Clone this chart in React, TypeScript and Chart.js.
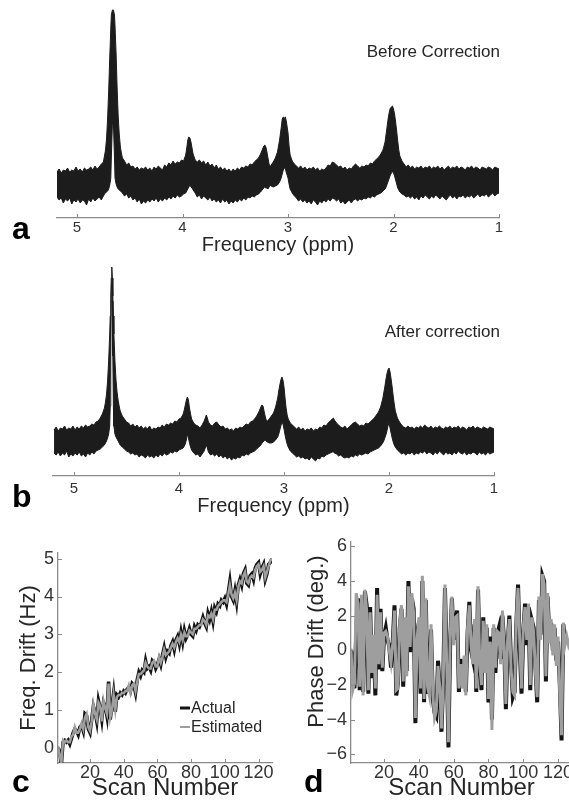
import React, { useEffect, useRef } from "react";
import { Chart, registerables } from "chart.js";

Chart.register(...registerables);

const FONT = "'Liberation Sans', Arial, Helvetica, sans-serif";
const AXIS = "#8a8a8a";
const INK = "#262626";
const SPEC = "#1c1c1c";

// ---------- tick labels ----------
const ppmTicks = [5, 4, 3, 2, 1];
const scanTicks = [20, 40, 60, 80, 100, 120];
const freqTicks = [0, 1, 2, 3, 4, 5];
const phaseTicks = [-6, -4, -2, 0, 2, 4, 6];

// ---------- panel a : spectrum before correction (upper / lower envelope of the noisy trace) ----------
const ppmA = [
  5.19, 5.17, 5.15, 5.13, 5.11, 5.09, 5.07, 5.05, 5.03, 5.01,
  4.99, 4.97, 4.95, 4.93, 4.91, 4.89, 4.87, 4.85, 4.83, 4.81,
  4.79, 4.77, 4.75, 4.74, 4.73, 4.72, 4.71, 4.7, 4.69, 4.68,
  4.675, 4.665, 4.655, 4.645, 4.64, 4.63, 4.62, 4.61, 4.6, 4.59,
  4.58, 4.57, 4.55, 4.53, 4.51, 4.49, 4.47, 4.45, 4.43, 4.41,
  4.39, 4.37, 4.35, 4.33, 4.31, 4.29, 4.27, 4.25, 4.23, 4.21,
  4.19, 4.17, 4.15, 4.13, 4.11, 4.09, 4.07, 4.05, 4.03, 4.01,
  3.99, 3.97, 3.96, 3.95, 3.94, 3.93, 3.92, 3.91, 3.9, 3.88,
  3.86, 3.84, 3.82, 3.8, 3.78, 3.76, 3.74, 3.72, 3.7, 3.68,
  3.66, 3.64, 3.62, 3.6, 3.58, 3.56, 3.54, 3.52, 3.5, 3.48,
  3.46, 3.44, 3.42, 3.4, 3.38, 3.36, 3.34, 3.32, 3.3, 3.28,
  3.26, 3.245, 3.23, 3.22, 3.21, 3.2, 3.19, 3.18, 3.17, 3.16,
  3.14, 3.12, 3.1, 3.08, 3.065, 3.055, 3.045, 3.035, 3.025, 3.015,
  3.0, 2.99, 2.98, 2.96, 2.94, 2.92, 2.9, 2.88, 2.86, 2.84,
  2.82, 2.8, 2.78, 2.76, 2.74, 2.72, 2.7, 2.68, 2.66, 2.64,
  2.62, 2.6, 2.58, 2.56, 2.54, 2.52, 2.5, 2.48, 2.46, 2.44,
  2.42, 2.4, 2.38, 2.36, 2.34, 2.32, 2.3, 2.28, 2.26, 2.24,
  2.22, 2.2, 2.18, 2.16, 2.14, 2.12, 2.1, 2.08, 2.07, 2.06,
  2.05, 2.04, 2.03, 2.02, 2.01, 2.0, 1.99, 1.98, 1.97, 1.96,
  1.95, 1.94, 1.92, 1.9, 1.88, 1.86, 1.84, 1.82, 1.8, 1.78,
  1.76, 1.74, 1.72, 1.7, 1.68, 1.66, 1.64, 1.62, 1.6, 1.58,
  1.56, 1.54, 1.52, 1.5, 1.48, 1.46, 1.44, 1.42, 1.4, 1.38,
  1.36, 1.34, 1.32, 1.3, 1.28, 1.26, 1.24, 1.22, 1.2, 1.18,
  1.16, 1.14, 1.12, 1.1, 1.08, 1.06, 1.04, 1.02, 1.0,
];
const upperA = [
  46, 49, 45, 48, 47, 50, 46, 48, 47, 51,
  47, 49, 46, 50, 48, 49, 51, 48, 52, 49,
  51, 54, 56, 62, 68, 80, 100, 128, 160, 190,
  203, 208, 208, 203, 192, 165, 130, 102, 84, 72,
  65, 60, 57, 53, 55, 51, 52, 49, 51, 48,
  50, 49, 51, 48, 50, 47, 51, 49, 52, 50,
  48, 53, 51, 55, 53, 57, 54, 56, 55, 58,
  57, 63, 70, 78, 81, 80, 76, 70, 64, 58,
  56, 58, 55, 57, 53, 56, 52, 54, 50, 53,
  49, 51, 48, 50, 47, 49, 46, 49, 47, 50,
  48, 51, 50, 52, 51, 54, 53, 56, 58, 60,
  64, 68, 72, 73, 71, 66, 60, 54, 51, 53,
  56, 60, 66, 78, 90, 99, 101, 100, 101, 96,
  85, 72, 63, 57, 54, 52, 50, 52, 49, 51,
  48, 50, 49, 51, 48, 50, 47, 49, 48, 50,
  53, 52, 56, 55, 53, 51, 52, 49, 51, 48,
  50, 49, 52, 54, 52, 50, 52, 51, 53, 52,
  55, 54, 57, 59, 61, 64, 68, 76, 84, 92,
  100, 106, 110, 111, 112, 109, 104, 96, 87, 77,
  68, 62, 57, 54, 51, 53, 50, 52, 49, 51,
  50, 52, 49, 51, 50, 52, 49, 51, 50, 52,
  49, 51, 48, 50, 52, 49, 51, 50, 52, 49,
  51, 50, 48, 51, 50, 52, 49, 51, 50, 48,
  51, 50, 49, 51, 50, 48, 51, 50, 49,
];
const lowerA = [
  21, 18, 20, 15, 19, 17, 20, 14, 18, 16,
  19, 15, 18, 17, 13, 19, 16, 20, 17, 19,
  21, 18, 22, 24, 25, 26, 27, 29, 33, 40,
  60, 94, 94, 60, 40, 34, 31, 29, 28, 27,
  26, 25, 22, 24, 20, 22, 18, 20, 16, 19,
  14, 17, 15, 18, 16, 19, 17, 20, 16, 19,
  17, 20, 18, 21, 19, 22, 20, 23, 21, 22,
  24, 25, 27, 29, 31, 33, 31, 30, 28, 25,
  21, 23, 19, 22, 20, 18, 21, 17, 19, 16,
  18, 15, 19, 16, 18, 14, 17, 15, 18, 16,
  19, 17, 20, 18, 21, 20, 22, 21, 23, 24,
  26, 28, 30, 31, 30, 30, 29, 31, 33, 32,
  31, 32, 33, 36, 40, 44, 48, 50, 49, 45,
  40, 34, 29, 25, 22, 20, 17, 19, 16, 18,
  15, 17, 14, 18, 16, 13, 17, 15, 18, 16,
  19, 17, 20, 19, 17, 19, 15, 17, 14, 16,
  18, 15, 18, 19, 17, 19, 18, 20, 19, 21,
  20, 22, 21, 23, 24, 25, 27, 29, 31, 34,
  37, 40, 43, 45, 46, 45, 42, 38, 34, 30,
  28, 26, 24, 23, 21, 22, 20, 22, 19, 21,
  18, 22, 20, 23, 21, 19, 22, 20, 23, 21,
  19, 22, 20, 18, 21, 23, 20, 22, 19, 22,
  21, 23, 20, 22, 21, 23, 20, 22, 24, 21,
  23, 22, 24, 21, 23, 25, 22, 24, 25,
];

// ---------- panel b : spectrum after correction ----------
const ppmB = [
  5.19, 5.17, 5.15, 5.13, 5.11, 5.09, 5.07, 5.05, 5.03, 5.01,
  4.99, 4.97, 4.95, 4.93, 4.91, 4.89, 4.87, 4.85, 4.83, 4.81,
  4.79, 4.77, 4.75, 4.73, 4.71, 4.7, 4.69, 4.68, 4.67, 4.66,
  4.655, 4.65, 4.645, 4.64, 4.635, 4.63, 4.625, 4.62, 4.61, 4.6,
  4.59, 4.58, 4.57, 4.56, 4.54, 4.52, 4.5, 4.48, 4.46, 4.44,
  4.42, 4.4, 4.38, 4.36, 4.34, 4.32, 4.3, 4.28, 4.26, 4.24,
  4.22, 4.2, 4.18, 4.16, 4.14, 4.12, 4.1, 4.08, 4.06, 4.04,
  4.02, 4.0, 3.98, 3.96, 3.95, 3.94, 3.93, 3.92, 3.91, 3.9,
  3.89, 3.88, 3.86, 3.84, 3.82, 3.8, 3.78, 3.76, 3.75, 3.74,
  3.73, 3.72, 3.7, 3.68, 3.66, 3.64, 3.62, 3.6, 3.58, 3.56,
  3.54, 3.52, 3.5, 3.48, 3.46, 3.44, 3.42, 3.4, 3.38, 3.36,
  3.34, 3.32, 3.3, 3.28, 3.26, 3.24, 3.22, 3.21, 3.2, 3.19,
  3.18, 3.17, 3.16, 3.14, 3.12, 3.1, 3.08, 3.06, 3.05, 3.04,
  3.03, 3.02, 3.01, 3.0, 2.99, 2.98, 2.97, 2.96, 2.94, 2.92,
  2.9, 2.88, 2.86, 2.84, 2.82, 2.8, 2.78, 2.76, 2.74, 2.72,
  2.7, 2.68, 2.66, 2.64, 2.62, 2.6, 2.58, 2.56, 2.54, 2.53,
  2.52, 2.5, 2.48, 2.46, 2.44, 2.42, 2.4, 2.38, 2.36, 2.34,
  2.32, 2.3, 2.28, 2.26, 2.24, 2.22, 2.2, 2.18, 2.16, 2.14,
  2.12, 2.1, 2.08, 2.06, 2.05, 2.04, 2.03, 2.02, 2.01, 2.0,
  1.99, 1.98, 1.97, 1.96, 1.95, 1.94, 1.92, 1.9, 1.88, 1.86,
  1.84, 1.82, 1.8, 1.78, 1.76, 1.74, 1.72, 1.7, 1.68, 1.66,
  1.64, 1.62, 1.6, 1.58, 1.56, 1.54, 1.52, 1.5, 1.48, 1.46,
  1.44, 1.42, 1.4, 1.38, 1.36, 1.34, 1.32, 1.3, 1.28, 1.26,
  1.24, 1.22, 1.2, 1.18, 1.16, 1.14, 1.12, 1.1, 1.08, 1.06,
  1.04, 1.02, 1.0,
];
const upperB = [
  46, 49, 45, 48, 47, 50, 46, 48, 47, 50,
  46, 49, 47, 50, 48, 51, 49, 50, 52, 51,
  54, 55, 58, 62, 68, 74, 82, 95, 115, 142,
  160, 180, 198, 209, 198, 180, 160, 142, 115, 96,
  84, 76, 70, 65, 60, 57, 54, 53, 50, 52,
  49, 51, 48, 50, 47, 49, 47, 50, 46, 48,
  47, 49, 48, 51, 49, 52, 51, 53, 52, 55,
  54, 57, 58, 62, 66, 71, 76, 79, 76, 68,
  62, 57, 53, 51, 50, 48, 51, 55, 58, 61,
  58, 54, 51, 50, 53, 54, 51, 49, 50, 47,
  48, 46, 47, 45, 48, 47, 49, 48, 50, 52,
  51, 54, 55, 57, 60, 64, 69, 71, 70, 65,
  60, 56, 55, 57, 60, 63, 69, 78, 85, 91,
  96, 99, 96, 89, 78, 68, 61, 57, 53, 51,
  49, 47, 49, 46, 48, 45, 47, 46, 48, 45,
  47, 46, 49, 48, 51, 50, 53, 55, 57, 58,
  56, 53, 51, 49, 48, 50, 47, 49, 51, 53,
  54, 52, 50, 51, 50, 53, 52, 54, 56, 58,
  61, 64, 69, 77, 83, 89, 96, 102, 106, 108,
  104, 97, 89, 80, 72, 65, 58, 54, 51, 49,
  48, 50, 48, 49, 47, 49, 48, 50, 48, 51,
  49, 48, 50, 47, 49, 48, 50, 48, 47, 49,
  48, 50, 47, 49, 48, 50, 47, 49, 48, 46,
  49, 48, 50, 47, 49, 48, 47, 49, 48, 47,
  49, 48, 47,
];
const lowerB = [
  23, 21, 24, 20, 23, 21, 25, 19, 22, 20,
  23, 21, 24, 20, 22, 19, 23, 21, 24, 22,
  25, 26, 27, 29, 31, 33, 35, 38, 42, 50,
  70, 120, 175, 192, 175, 120, 70, 50, 42, 39,
  37, 35, 33, 31, 29, 27, 25, 24, 22, 23,
  21, 22, 19, 21, 20, 18, 21, 19, 20, 18,
  21, 19, 22, 20, 23, 21, 22, 24, 23, 25,
  24, 26, 27, 28, 30, 32, 36, 42, 38, 33,
  29, 26, 23, 21, 22, 19, 22, 25, 28, 31,
  28, 24, 21, 22, 20, 22, 19, 21, 18, 20,
  17, 19, 16, 18, 17, 19, 18, 21, 20, 22,
  21, 23, 24, 25, 27, 29, 31, 33, 34, 35,
  36, 35, 34, 33, 33, 34, 36, 39, 42, 46,
  50, 54, 52, 47, 41, 36, 32, 29, 25, 23,
  21, 19, 20, 18, 19, 17, 18, 16, 19, 17,
  15, 18, 17, 20, 19, 21, 22, 23, 24, 24,
  23, 22, 20, 21, 19, 18, 19, 18, 20, 19,
  21, 20, 22, 21, 22, 23, 22, 24, 25, 26,
  27, 28, 30, 33, 35, 38, 41, 45, 50, 53,
  48, 43, 38, 34, 31, 29, 26, 24, 22, 23,
  21, 23, 22, 24, 21, 23, 22, 24, 23, 25,
  22, 24, 23, 21, 24, 22, 25, 23, 21, 24,
  22, 23, 21, 24, 22, 25, 23, 22, 24, 21,
  23, 22, 24, 23, 21, 24, 22, 23, 21, 24,
  22, 23, 24,
];

// ---------- panel c : frequency drift (Hz) per scan ----------
const freqActual = [
  0.0, -0.1, -0.45, 0.15, 0.2, 0.15, 0.2, 0.1, 0.25, 0.4,
  0.5, 0.45, 0.35, 0.55, 0.6, 0.45, 0.9, 0.85, 0.5, 0.4,
  0.75, 1.1, 0.95, 0.7, 1.25, 1.05, 0.75, 1.2, 1.1, 0.85,
  1.75, 0.75, 1.1, 1.45, 0.95, 1.4, 1.35, 1.45, 1.4, 1.5,
  1.45, 1.55, 1.6, 1.5, 1.7, 1.65, 1.45, 1.8, 2.0, 1.9,
  2.05, 2.0, 2.3, 2.1, 2.15, 2.05, 2.3, 2.25, 2.1, 2.2,
  2.35, 2.2, 2.45, 2.65, 2.4, 2.55, 2.5, 2.7, 2.8, 2.6,
  2.85, 2.95, 2.75, 3.05, 2.8, 3.1, 2.9, 3.0, 3.15, 3.0,
  2.95, 3.2, 3.1, 3.25, 3.2, 3.3, 3.45, 3.3, 3.2, 3.55,
  3.4, 3.6, 3.35, 3.7, 3.6, 3.8, 3.75, 3.9, 3.85, 3.95,
  3.8, 4.1, 4.4, 4.0, 3.9, 4.15, 3.85, 4.3, 4.45, 4.3,
  4.6, 4.7, 4.35, 4.3, 4.55, 4.6, 4.45, 4.75, 4.85, 4.9,
  4.6, 4.75, 4.85, 4.45, 4.6, 4.85, 4.9, 5.0,
];
const freqEstimated = [
  0.05, -0.2, -0.4, 0.2, 0.15, 0.2, 0.15, 0.15, 0.3, 0.35,
  0.55, 0.4, 0.4, 0.5, 0.65, 0.5, 0.8, 0.9, 0.55, 0.45,
  0.7, 1.15, 0.9, 0.75, 1.2, 1.1, 0.7, 1.25, 1.05, 0.9,
  1.7, 0.8, 1.0, 1.4, 1.0, 1.35, 1.4, 1.4, 1.45, 1.45,
  1.5, 1.5, 1.65, 1.45, 1.65, 1.7, 1.5, 1.75, 1.95, 1.95,
  2.0, 2.05, 2.25, 2.15, 2.1, 2.1, 2.25, 2.3, 2.15, 2.15,
  2.4, 2.25, 2.4, 2.6, 2.45, 2.5, 2.55, 2.65, 2.75, 2.65,
  2.8, 2.9, 2.8, 3.0, 2.85, 3.05, 2.95, 2.95, 3.1, 3.05,
  3.0, 3.15, 3.15, 3.2, 3.25, 3.25, 3.4, 3.35, 3.25, 3.5,
  3.45, 3.55, 3.4, 3.65, 3.65, 3.75, 3.8, 3.85, 3.9, 3.9,
  3.85, 4.05, 4.3, 4.05, 3.95, 4.1, 3.9, 4.25, 4.4, 4.35,
  4.55, 4.65, 4.4, 4.35, 4.5, 4.55, 4.5, 4.7, 4.8, 4.85,
  4.65, 4.7, 4.8, 4.5, 4.65, 4.8, 4.95, 5.0,
];

// ---------- panel d : phase drift (deg.) per scan ----------
const phaseActual = [
  0.0, -0.3, -2.2, 1.0, 3.0, -2.3, 2.9, -2.4, 3.4, 2.6,
  -2.5, 2.5, -1.6, 0.6, -2.6, 3.6, -1.1, 2.4, -1.2, 0.8,
  1.3, 0.6, 0.2, -1.0, 0.5, 2.6, -2.6, -1.9, 1.3, 2.4,
  -2.1, 1.7, -1.2, 4.0, -0.1, 3.0, 2.4, -4.2, 1.0, 1.6,
  -2.5, 4.0, -3.0, 2.9, -2.4, -2.4, 1.2, -2.8, -3.6, -3.8,
  -0.6, -2.3, -4.7, -1.7, 3.6, -0.5, -5.6, 0.5, 3.0, 0.6,
  1.7, 2.3, -2.4, -0.5, -1.9, -0.6, -2.4, 1.0, 2.8, 0.0,
  -0.5, 1.5, -2.4, 3.5, -0.6, -2.3, 1.9, -1.0, 1.3, -3.0,
  0.8, -4.0, 1.3, -1.3, 0.9, 1.3, -0.5, 2.0, 0.5, -3.4,
  0.3, 2.0, -0.8, -2.7, -2.4, 1.5, 3.8, 0.1, -2.5, 1.0,
  2.7, 0.3, 2.5, -2.3, 1.7, 1.3, -1.0, -3.0, 2.9, 0.9,
  4.3, 4.0, -1.8, 3.1, 0.7, 1.6, 0.0, 1.3, -0.6, 0.5,
  -2.0, -5.2, 1.5, 0.6, 0.6, 0.5, 0.4, 0.5,
];
const phaseEstimated = [
  0.1, -2.3, -1.9, 3.3, 2.7, -2.1, 3.2, -2.6, 3.5, 2.3,
  -2.3, 2.2, -1.3, 0.9, -2.2, 3.2, -0.8, 2.2, -1.0, 1.0,
  1.1, 0.8, 0.0, -0.7, 0.4, 2.3, -2.3, -2.2, 1.6, 2.6,
  -1.8, 1.9, -1.5, 3.7, 0.2, 3.3, 2.1, -3.9, 0.7, 1.9,
  -2.2, 4.3, -2.8, 3.0, -2.1, -2.6, 1.5, -2.5, -3.9, -3.5,
  -0.9, -2.1, -4.5, -1.9, 3.8, -0.8, -5.3, 0.8, 3.1, 0.3,
  1.9, 2.0, -2.2, -0.8, -2.2, -0.3, -2.6, 1.3, 2.6, 0.3,
  -0.8, 1.8, -2.2, 3.7, -0.9, -2.0, 1.7, -1.3, 1.5, -2.8,
  0.5, -4.6, 1.5, -1.0, 1.1, 1.0, -0.8, 2.3, 0.2, -3.1,
  0.6, 1.8, -1.1, -2.4, -2.6, 1.8, 3.6, 0.4, -2.2, 1.3,
  2.5, 0.6, 2.7, -2.0, 1.9, 1.0, -1.3, -2.7, 3.1, 0.6,
  4.4, 3.8, -1.5, 3.3, 0.4, 1.8, -0.3, 1.5, -0.9, 0.8,
  -2.6, -4.9, 1.6, 0.3, 0.8, 0.3, 0.6, 0.4,
];
const scanNumbers = freqActual.map((_, i) => i + 1);

// ---------- plugins ----------
const inwardTicks = {
  id: "inwardTicks",
  afterDraw(chart: any, _a: any, opts: any) {
    if (!opts || !opts.len) return;
    const ctx = chart.ctx;
    const x = chart.scales.x;
    const y = chart.scales.y;
    ctx.save();
    ctx.strokeStyle = opts.color;
    ctx.lineWidth = 1;
    x.ticks.forEach((t: any) => {
      const px = Math.round(x.getPixelForValue(t.value)) + 0.5;
      ctx.beginPath();
      ctx.moveTo(px, x.top);
      ctx.lineTo(px, x.top - opts.len);
      ctx.stroke();
    });
    if (y && y.options.display) {
      y.ticks.forEach((t: any) => {
        const py = Math.round(y.getPixelForValue(t.value)) + 0.5;
        ctx.beginPath();
        ctx.moveTo(y.right, py);
        ctx.lineTo(y.right + opts.len, py);
        ctx.stroke();
      });
    }
    ctx.restore();
  },
};

const cornerLegend = {
  id: "cornerLegend",
  afterDraw(chart: any, _a: any, opts: any) {
    if (!opts || !opts.show) return;
    const ctx = chart.ctx;
    ctx.save();
    chart.data.datasets.forEach((ds: any, i: number) => {
      const y = opts.y + i * opts.gap;
      ctx.strokeStyle = ds.borderColor;
      ctx.lineWidth = i === 0 ? 3 : 2;
      ctx.beginPath();
      ctx.moveTo(opts.x, y);
      ctx.lineTo(opts.x + opts.len, y);
      ctx.stroke();
      ctx.fillStyle = INK;
      ctx.font = `16px ${FONT}`;
      ctx.textBaseline = "middle";
      ctx.textAlign = "left";
      ctx.fillText(ds.label, opts.x + opts.len + 1, y + 1);
    });
    ctx.restore();
  },
};

Chart.register(inwardTicks, cornerLegend);

const fmt = (v: number) => (v < 0 ? "\u2212" + Math.abs(v) : String(v));

function spectrumConfig(
  ppm: number[], upper: number[], lower: number[],
  pad: { left: number; right: number; top: number; bottom: number },
  maxPpm: number, tickPad: number, axisH: number
): any {
  return {
    type: "line",
    data: {
      datasets: [
        {
          label: "upper",
          data: ppm.map((p, i) => ({ x: p, y: upper[i] })),
          borderColor: SPEC, backgroundColor: SPEC, borderWidth: 1,
          pointRadius: 0, tension: 0, fill: "+1",
        },
        {
          label: "lower",
          data: ppm.map((p, i) => ({ x: p, y: lower[i] })),
          borderColor: SPEC, borderWidth: 1, pointRadius: 0, tension: 0, fill: false,
        },
      ],
    },
    options: {
      responsive: false, animation: false, events: [],
      layout: { padding: pad },
      plugins: {
        legend: { display: false }, tooltip: { enabled: false },
        inwardTicks: { len: 4, color: AXIS },
      },
      scales: {
        x: {
          type: "linear", reverse: true, min: 1, max: maxPpm,
          afterBuildTicks: (s: any) => { s.ticks = ppmTicks.map((v) => ({ value: v })); },
          afterFit: (s: any) => { s.height = axisH; },
          grid: { display: false, drawTicks: false },
          border: { display: true, color: AXIS, width: 1.3 },
          ticks: { padding: tickPad, color: "#333", font: { family: FONT, size: 15 }, callback: (v: any) => fmt(v) },
          title: { display: true, text: "Frequency (ppm)", color: INK, font: { family: FONT, size: 20 }, padding: { top: 0, bottom: 0 } },
        },
        y: { display: false, min: 0, max: 213 },
      },
    },
  };
}

function driftConfig(
  actual: number[], estimated: number[], yTicks: number[], yMin: number, yMax: number,
  yTitle: string, pad: any, yW: number, titlePad: number, widths: [number, number], legend: boolean
): any {
  return {
    type: "line",
    data: {
      datasets: [
        {
          label: "Actual", data: scanNumbers.map((s, i) => ({ x: s, y: actual[i] })),
          borderColor: "#141414", borderWidth: widths[0], pointRadius: 0, tension: 0, fill: false, order: 2,
        },
        {
          label: "Estimated", data: scanNumbers.map((s, i) => ({ x: s, y: estimated[i] })),
          borderColor: "#9e9e9e", borderWidth: widths[1], pointRadius: 0, tension: 0, fill: false, order: 1,
        },
      ],
    },
    options: {
      responsive: false, animation: false, events: [],
      layout: { padding: pad },
      plugins: {
        legend: { display: false }, tooltip: { enabled: false },
        inwardTicks: { len: 4, color: AXIS },
        cornerLegend: { show: legend, x: 180, y: 708, gap: 19, len: 10 },
      },
      scales: {
        x: {
          type: "linear", min: 1, max: 128,
          afterBuildTicks: (s: any) => { s.ticks = scanTicks.map((v) => ({ value: v })); },
          afterFit: (s: any) => { s.height = 40; },
          grid: { display: false, drawTicks: false },
          border: { display: true, color: AXIS, width: 1.3 },
          ticks: { padding: -1, color: "#333", font: { family: FONT, size: 18 }, callback: (v: any) => fmt(v), maxRotation: 0, autoSkip: false },
          title: { display: true, text: "Scan Number", color: INK, font: { family: FONT, size: 24 }, padding: { top: 0, bottom: 0 } },
        },
        y: {
          type: "linear", min: yMin, max: yMax,
          afterBuildTicks: (s: any) => { s.ticks = yTicks.map((v) => ({ value: v })); },
          afterFit: (s: any) => { s.width = yW; },
          grid: { display: false, drawTicks: false },
          border: { display: true, color: AXIS, width: 1.3 },
          ticks: { padding: 4, color: "#333", font: { family: FONT, size: 18 }, callback: (v: any) => fmt(v) },
          title: { display: true, text: yTitle, color: INK, font: { family: FONT, size: 22 }, padding: { top: titlePad, bottom: 0 } },
        },
      },
    },
  };
}

const letter = (ch: string, left: number, baseline: number) => (
  <div
    style={{
      position: "absolute", left, top: baseline - 26.6, fontFamily: FONT, fontWeight: 700,
      fontSize: 32, lineHeight: "32px", color: "#000",
    }}
  >
    {ch}
  </div>
);

export default function App() {
  const aRef = useRef<HTMLCanvasElement>(null);
  const bRef = useRef<HTMLCanvasElement>(null);
  const cRef = useRef<HTMLCanvasElement>(null);
  const dRef = useRef<HTMLCanvasElement>(null);

  useEffect(() => {
    const charts: Chart[] = [];
    charts.push(new Chart(aRef.current!, spectrumConfig(ppmA, upperA, lowerA, { left: 57, right: 70, top: 5, bottom: 547 }, 5.19, 1, 39)));
    charts.push(new Chart(bRef.current!, spectrumConfig(ppmB, upperB, lowerB, { left: 53, right: 75, top: 263, bottom: 286 }, 5.2, 4, 42)));
    charts.push(new Chart(cRef.current!, driftConfig(freqActual, freqEstimated, freqTicks, -0.4, 5.15, "Freq. Drift (Hz)",
      { left: 0, right: 297, top: 553, bottom: 1 }, 58, 16, [3.5, 2.5], true)));
    charts.push(new Chart(dRef.current!, driftConfig(phaseActual, phaseEstimated, phaseTicks, -6.5, 6.25, "\u2002\u2002Phase Drift (deg.)",
      { left: 301, right: 28, top: 542, bottom: 1 }, 50, 3, [4, 3], false)));
    return () => charts.forEach((c) => c.destroy());
  }, []);

  const cv: React.CSSProperties = { position: "absolute", left: 0, top: 0 };
  return (
    <div style={{ position: "absolute", left: 0, top: 0, width: 569, height: 804, overflow: "hidden", background: "#fff" }}>
      <canvas ref={aRef} width={569} height={804} style={cv} />
      <canvas ref={bRef} width={569} height={804} style={cv} />
      <canvas ref={cRef} width={569} height={804} style={cv} />
      <canvas ref={dRef} width={600} height={804} style={cv} />
      <div style={{ position: "absolute", right: 69, top: 43, fontFamily: FONT, fontSize: 17, lineHeight: "17px", color: INK, whiteSpace: "nowrap" }}>
        Before Correction
      </div>
      <div style={{ position: "absolute", right: 69, top: 323, fontFamily: FONT, fontSize: 17, lineHeight: "17px", color: INK, whiteSpace: "nowrap" }}>
        After correction
      </div>
      {letter("a", 12, 239)}
      {letter("b", 12, 507)}
      {letter("c", 12, 792)}
      {letter("d", 304, 792)}
    </div>
  );
}
